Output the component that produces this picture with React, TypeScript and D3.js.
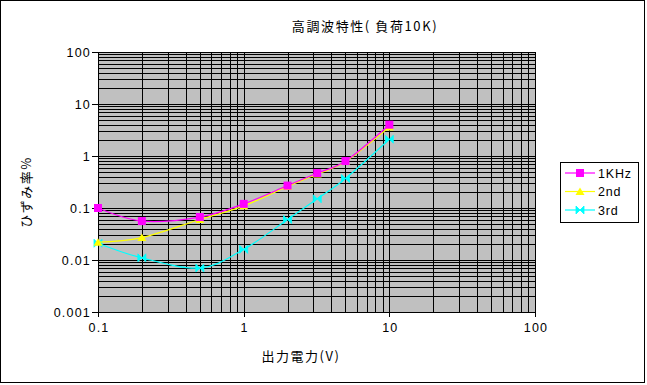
import React from "react";
import * as d3 from "d3";

const xValues = [0.1, 0.2, 0.5, 1, 2, 3.2, 5, 10];
const khz = [0.1, 0.056, 0.067, 0.12, 0.27, 0.47, 0.8, 4.0];
const second = [0.022, 0.027, 0.06, 0.11, 0.26, 0.45, 0.78, 3.6];
const third = [0.021, 0.011, 0.007, 0.016, 0.06, 0.15, 0.37, 2.1];
const seriesNames = ["1KHz", "2nd", "3rd"];
const xTicks = [0.1, 1, 10, 100];
const xTickLabels = ["0.1", "1", "10", "100"];
const yTicks = [0.001, 0.01, 0.1, 1, 10, 100];
const yTickLabels = ["0.001", "0.01", "0.1", "1", "10", "100"];
const title = "高調波特性( 負荷10K)";
const xTitle = "出力電力(V)";
const yTitle = "ひずみ率%";

const W = 647;
const H = 385;
const PL = 98, PR = 535, PT = 52, PB = 312;

const JP = "'Noto Sans CJK JP', 'Noto Sans', sans-serif";
const LAT = "'Liberation Sans', Arial, sans-serif";

function Marker({ kind, x, y, color }: { kind: string; x: number; y: number; color: string }) {
  if (kind === "square") {
    return <rect x={x - 4} y={y - 4} width={8} height={8} fill={color} />;
  }
  if (kind === "triangle") {
    return <path d={`M${x},${y - 4}L${x + 4.5},${y + 3.5}L${x - 4.5},${y + 3.5}Z`} fill={color} />;
  }
  return (
    <path
      d={`M${x - 4},${y - 4}L${x},${y}L${x - 4},${y + 4}Z M${x + 4},${y - 4}L${x},${y}L${x + 4},${y + 4}Z`}
      fill={color}
      stroke={color}
      strokeWidth={0.8}
    />
  );
}

export default function App() {
  const x = d3.scaleLog().domain([0.1, 100]).range([PL, PR]);
  const y = d3.scaleLog().domain([0.001, 100]).range([PB, PT]);

  const minorX: number[] = [];
  for (let e = -1; e < 2; e++) for (let m = 1; m <= 10; m++) minorX.push(m * Math.pow(10, e));
  const minorY: number[] = [];
  for (let e = -3; e < 2; e++) for (let m = 1; m <= 10; m++) minorY.push(m * Math.pow(10, e));

  const line = d3
    .line<number>()
    .x((_, i) => x(xValues[i]))
    .y((d) => y(d))
    .curve(d3.curveCardinal.tension(0));

  const series = [
    { name: seriesNames[2], data: third, color: "#00FFFF", kind: "bowtie" },
    { name: seriesNames[1], data: second, color: "#FFFF00", kind: "triangle" },
    { name: seriesNames[0], data: khz, color: "#FF00FF", kind: "square" },
  ];
  const legendOrder = [series[2], series[1], series[0]];

  return (
    <svg
      width={W}
      height={H}
      style={{ position: "absolute", left: 0, top: 0 }}
      shapeRendering="auto"
    >
      <rect x={0} y={0} width={W} height={H} fill="#fff" />
      <rect x={0.5} y={0.5} width={644} height={382} fill="#fff" stroke="#000" strokeWidth={1} />
      <text x={365} y={31} textAnchor="middle" fontFamily={JP} fontSize={13} letterSpacing={1.6} fill="#000">
        {title}
      </text>
      <rect x={PL} y={PT} width={PR - PL} height={PB - PT} fill="#C0C0C0" />
      <g shapeRendering="crispEdges" stroke="#000" strokeWidth={1}>
        {minorX.map((v, i) => (
          <line key={"gx" + i} x1={Math.round(x(v)) + 0.5} x2={Math.round(x(v)) + 0.5} y1={PT} y2={PB} />
        ))}
        {minorY.map((v, i) => (
          <line key={"gy" + i} x1={PL} x2={PR} y1={Math.round(y(v)) + 0.5} y2={Math.round(y(v)) + 0.5} />
        ))}
        {xTicks.map((v, i) => (
          <line key={"tx" + i} x1={Math.round(x(v)) + 0.5} x2={Math.round(x(v)) + 0.5} y1={PB} y2={PB + 5} />
        ))}
        {yTicks.map((v, i) => (
          <line key={"ty" + i} x1={PL - 6} x2={PL} y1={Math.round(y(v)) + 0.5} y2={Math.round(y(v)) + 0.5} />
        ))}
      </g>
      {xTicks.map((v, i) => (
        <text key={"xl" + i} x={x(v) + 1} y={332} textAnchor="middle" fontFamily={LAT} fontSize={12.5} letterSpacing={1.2} fill="#000">
          {xTickLabels[i]}
        </text>
      ))}
      {yTicks.map((v, i) => (
        <text key={"yl" + i} x={91} y={y(v) + 4.5} textAnchor="end" fontFamily={LAT} fontSize={12.5} letterSpacing={1.2} fill="#000">
          {yTickLabels[i]}
        </text>
      ))}
      <text x={301} y={361} textAnchor="middle" fontFamily={JP} fontSize={13} letterSpacing={1.5} fill="#000">
        {xTitle}
      </text>
      <text
        transform={`translate(31,192) rotate(-90)`}
        textAnchor="middle"
        fontFamily={JP}
        fontSize={13}
        letterSpacing={1.5}
        fill="#000"
      >
        {yTitle}
      </text>
      {series.map((s) => (
        <g key={s.name}>
          <path d={line(s.data) || ""} fill="none" stroke={s.color} strokeWidth={1.2} />
          {s.data.map((d, i) => (
            <Marker key={i} kind={s.kind} x={x(xValues[i])} y={y(d)} color={s.color} />
          ))}
        </g>
      ))}
      <rect x={560.5} y={162.5} width={78} height={60} fill="#fff" stroke="#000" strokeWidth={1} />
      {legendOrder.map((s, i) => {
        const ly = 173 + i * 18.5;
        return (
          <g key={"lg" + s.name}>
            <line x1={565} x2={595} y1={ly} y2={ly} stroke={s.color} strokeWidth={1.2} />
            <Marker kind={s.kind} x={580} y={ly} color={s.color} />
            <text x={598} y={ly + 4.5} fontFamily={LAT} fontSize={12.5} letterSpacing={0.8} fill="#000">
              {s.name}
            </text>
          </g>
        );
      })}
    </svg>
  );
}
